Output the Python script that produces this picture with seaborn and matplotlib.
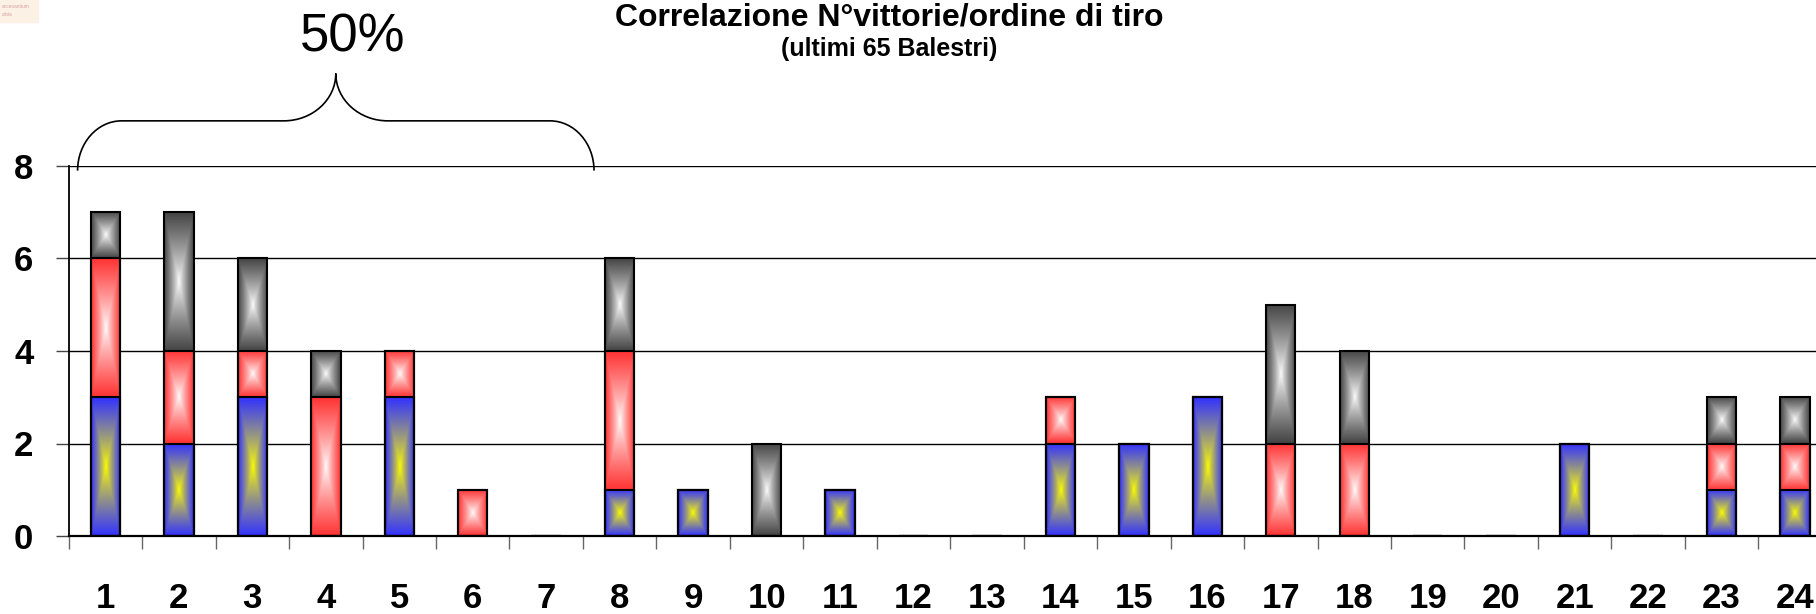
import numpy as np
import pandas as pd
import matplotlib.pyplot as plt
import seaborn as sns
from matplotlib.path import Path
from matplotlib.patches import PathPatch, Rectangle

# ordine di tiro e vittorie per colore
posizioni = [str(i) for i in range(1, 25)]
blu   = [3, 2, 3, 0, 3, 0, 0, 1, 1, 0, 1, 0, 0, 2, 2, 3, 0, 0, 0, 0, 2, 0, 1, 1]
rossi = [3, 2, 1, 3, 1, 1, 0, 3, 0, 0, 0, 0, 0, 1, 0, 0, 2, 2, 0, 0, 0, 0, 1, 1]
grigi = [1, 3, 2, 1, 0, 0, 0, 2, 0, 2, 0, 0, 0, 0, 0, 0, 3, 2, 0, 0, 0, 0, 1, 1]

sns.set_theme(style="white")
plt.rcParams["font.family"] = ["Liberation Sans", "DejaVu Sans"]
plt.rcParams["text.color"] = "black"
plt.rcParams["xtick.labelcolor"] = "black"
plt.rcParams["ytick.labelcolor"] = "black"

df = pd.DataFrame({"pos": posizioni, "blu": blu, "rossi": rossi, "grigi": grigi})
df["br"] = df["blu"] + df["rossi"]
df["tot"] = df["br"] + df["grigi"]

fig = plt.figure(figsize=(18.16, 6.14), dpi=100)
ax = fig.add_axes([68.7 / 1816, 78 / 614, 24 * 73.46 / 1816, 370 / 614])


def sfumatura(ax, x0, x1, y0, y1, centro, bordo):
    u = np.linspace(-1, 1, 60)
    v = np.linspace(-1, 1, 120)
    U, V = np.meshgrid(u, v)
    t = np.maximum(np.abs(U), np.abs(V)) ** 0.85
    c = np.array(centro)
    e = np.array(bordo)
    img = c * (1 - t)[..., None] + e * t[..., None]
    ax.imshow(img, extent=(x0, x1, y0, y1), aspect="auto",
              interpolation="bilinear", origin="lower", zorder=2)


strati = [
    ("tot", "br", (1, 1, 1), (0.27, 0.27, 0.27)),
    ("br", "blu", (1, 1, 1), (1, 0.2, 0.2)),
    ("blu", None, (1, 1, 0), (0.2, 0.2, 1)),
]

for col, sotto, centro, bordo in strati:
    n0 = len(ax.patches)
    sns.barplot(data=df, x="pos", y=col, order=posizioni, width=0.4,
                color="grey", edgecolor="black", linewidth=1.5,
                errorbar=None, ax=ax)
    basi = df[sotto].values if sotto else np.zeros(len(df))
    for p, b in zip(ax.patches[n0:], basi):
        top = p.get_height()
        if top > b:
            sfumatura(ax, p.get_x(), p.get_x() + p.get_width(), b, top, centro, bordo)
        p.set_facecolor("none")
        p.set_zorder(3)

ax.set_xlim(-0.5, 23.5)
ax.set_ylim(0, 8)
ax.set_xlabel("")
ax.set_ylabel("")

ax.set_xticks(np.arange(-0.5, 24, 1))
ax.set_xticklabels([])
ax.set_xticks(range(24), minor=True)
ax.set_xticklabels(posizioni, minor=True, fontsize=25, fontweight="bold")
ax.tick_params(axis="x", which="major", bottom=True, length=9.5, width=1,
               color="#666666", direction="out")
ax.tick_params(axis="x", which="minor", bottom=True, length=0, pad=33)

ax.set_yticks([0, 2, 4, 6, 8])
ax.set_yticklabels(["0", "2", "4", "6", "8"], fontsize=25, fontweight="bold")
ax.tick_params(axis="y", left=True, length=9.5, width=1, color="#444444",
               direction="out", pad=16)

ax.yaxis.grid(True, color="black", linewidth=1)
ax.xaxis.grid(False)
ax.set_axisbelow(True)
for s in ["top", "right"]:
    ax.spines[s].set_visible(False)
ax.spines["left"].set_color("black")
ax.spines["left"].set_linewidth(1.3)
ax.spines["bottom"].set_color("black")
ax.spines["bottom"].set_linewidth(1.6)

# parentesi graffa sopra le prime posizioni
k = 0.5523
A, B, C, D = (-0.379, 7.90), (0.220, 8.976), (2.427, 8.976), (3.136, 10.0)
E, F, G = (3.845, 8.976), (6.052, 8.976), (6.651, 7.90)
vert = [A,
        (A[0], A[1] + k * (B[1] - A[1])), (B[0] - k * (B[0] - A[0]), B[1]), B,
        C,
        (C[0] + k * (D[0] - C[0]), C[1]), (D[0], D[1] - k * (D[1] - C[1])), D,
        (D[0], D[1] - k * (D[1] - E[1])), (E[0] - k * (E[0] - D[0]), E[1]), E,
        F,
        (F[0] + k * (G[0] - F[0]), F[1]), (G[0], G[1] + k * (F[1] - G[1])), G]
codici = [Path.MOVETO, Path.CURVE4, Path.CURVE4, Path.CURVE4, Path.LINETO,
          Path.CURVE4, Path.CURVE4, Path.CURVE4,
          Path.CURVE4, Path.CURVE4, Path.CURVE4, Path.LINETO,
          Path.CURVE4, Path.CURVE4, Path.CURVE4]
ax.add_patch(PathPatch(Path(vert, codici), facecolor="none", edgecolor="black",
                       linewidth=1.2, clip_on=False, zorder=4))

fig.text(353 / 1816, 1 - 52 / 614, "50%", ha="center", va="baseline", fontsize=38)
fig.text(889 / 1816, 1 - 26 / 614, "Correlazione N°vittorie/ordine di tiro",
         ha="center", va="baseline", fontsize=23, fontweight="bold")
fig.text(889 / 1816, 1 - 56 / 614, "(ultimi 65 Balestri)",
         ha="center", va="baseline", fontsize=18, fontweight="bold")

# logo sbiadito in alto a sinistra
fig.add_artist(Rectangle((0, 1 - 22 / 614), 38 / 1816, 22 / 614,
                         transform=fig.transFigure, color="#fbf1e4", zorder=0))
fig.text(2 / 1816, 1 - 8 / 614, "accesantium", fontsize=3.5, color="#d8a0a0")
fig.text(2 / 1816, 1 - 16 / 614, "crbia", fontsize=3.5, color="#d8a0a0")

fig.savefig("out.png", dpi=100)
